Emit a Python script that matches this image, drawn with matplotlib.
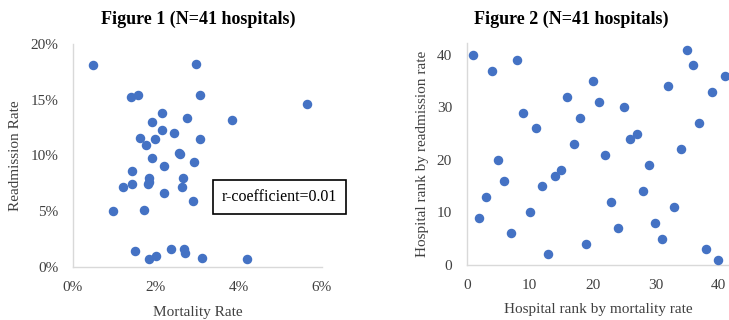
import matplotlib
matplotlib.use('Agg')
import matplotlib.pyplot as plt
from matplotlib.ticker import PercentFormatter

# Figure 1: mortality vs readmission rate (%)
mortality = [0.49, 2.96, 1.39, 1.56, 3.07, 5.63, 2.14, 1.91, 2.74, 3.83,
             2.14, 2.43, 1.61, 1.98, 3.07, 1.75, 2.56, 2.59, 1.91, 2.91,
             2.20, 1.43, 1.84, 2.65, 1.20, 1.43, 1.81, 1.84, 2.62, 2.20,
             2.88, 0.97, 1.72, 1.50, 2.37, 2.67, 2.71, 2.01, 1.84, 3.11, 4.20]
readmission = [18.1, 18.2, 15.2, 15.4, 15.4, 14.6, 13.8, 13.0, 13.4, 13.2,
               12.3, 12.0, 11.6, 11.5, 11.5, 10.9, 10.2, 10.1, 9.8, 9.4,
               9.1, 8.6, 8.0, 8.0, 7.2, 7.4, 7.4, 7.6, 7.2, 6.6,
               5.9, 5.0, 5.1, 1.4, 1.6, 1.6, 1.3, 1.0, 0.7, 0.8, 0.7]

# Figure 2: ranks
rank_mortality = list(range(1, 42))
rank_readmission = [40, 9, 13, 37, 20, 16, 6, 39, 29, 10, 26, 15, 2, 17, 18, 32,
                    23, 28, 4, 35, 31, 21, 12, 7, 30, 24, 25, 14, 19, 8, 5, 34,
                    11, 22, 41, 38, 27, 3, 33, 1, 36]

r_text = 'r-coefficient=0.01'

blue = '#4472C4'
grey = '#D9D9D9'
txt = '#404040'
plt.rcParams['font.family'] = ['Liberation Serif', 'DejaVu Serif']

fig = plt.figure(figsize=(7.29, 3.2), dpi=100)
ax1 = fig.add_axes([0.1001, 0.1656, 0.3416, 0.697])
ax2 = fig.add_axes([0.6402, 0.1719, 0.3598, 0.6928])

def style(ax):
    for s in ['top', 'right']:
        ax.spines[s].set_visible(False)
    for s in ['left', 'bottom']:
        ax.spines[s].set_color(grey)
        ax.spines[s].set_linewidth(1.0)
    ax.tick_params(length=0, labelsize=11, colors=txt)
    ax.tick_params(axis='x', pad=10)
    ax.tick_params(axis='y', pad=10.5)

ax1.scatter(mortality, readmission, s=34, color=blue, zorder=3, clip_on=False)
ax1.set_xlim(0, 6)
ax1.set_ylim(0, 20)
ax1.set_xticks([0, 2, 4, 6])
ax1.set_yticks([0, 5, 10, 15, 20])
ax1.xaxis.set_major_formatter(PercentFormatter(decimals=0))
ax1.yaxis.set_major_formatter(PercentFormatter(decimals=0))
style(ax1)
ax1.set_xlabel('Mortality Rate', fontsize=11, color=txt, labelpad=9)
ax1.set_ylabel('Readmission Rate', fontsize=11, color=txt, labelpad=6)
fig.text(0.272, 0.94, 'Figure 1 (N=41 hospitals)', ha='center', va='center',
         fontsize=13, fontweight='bold')

ax2.scatter(rank_mortality, rank_readmission, s=34, color=blue, zorder=3, clip_on=False)
ax2.set_xlim(0, 41.7)
ax2.set_ylim(0, 42.2)
ax2.set_xticks([0, 10, 20, 30, 40])
ax2.set_yticks([0, 10, 20, 30, 40])
style(ax2)
ax2.set_xlabel('Hospital rank by mortality rate', fontsize=11, color=txt, labelpad=8)
ax2.set_ylabel('Hospital rank by readmission rate', fontsize=11, color=txt, labelpad=6)
fig.text(0.783, 0.94, 'Figure 2 (N=41 hospitals)', ha='center', va='center',
         fontsize=13, fontweight='bold')

fig.text(0.3834, 0.3844, r_text, ha='center', va='center', fontsize=11.5,
         bbox=dict(boxstyle='square,pad=0.55', facecolor='white', edgecolor='black', linewidth=1.2))

fig.savefig('out.png', dpi=100)
